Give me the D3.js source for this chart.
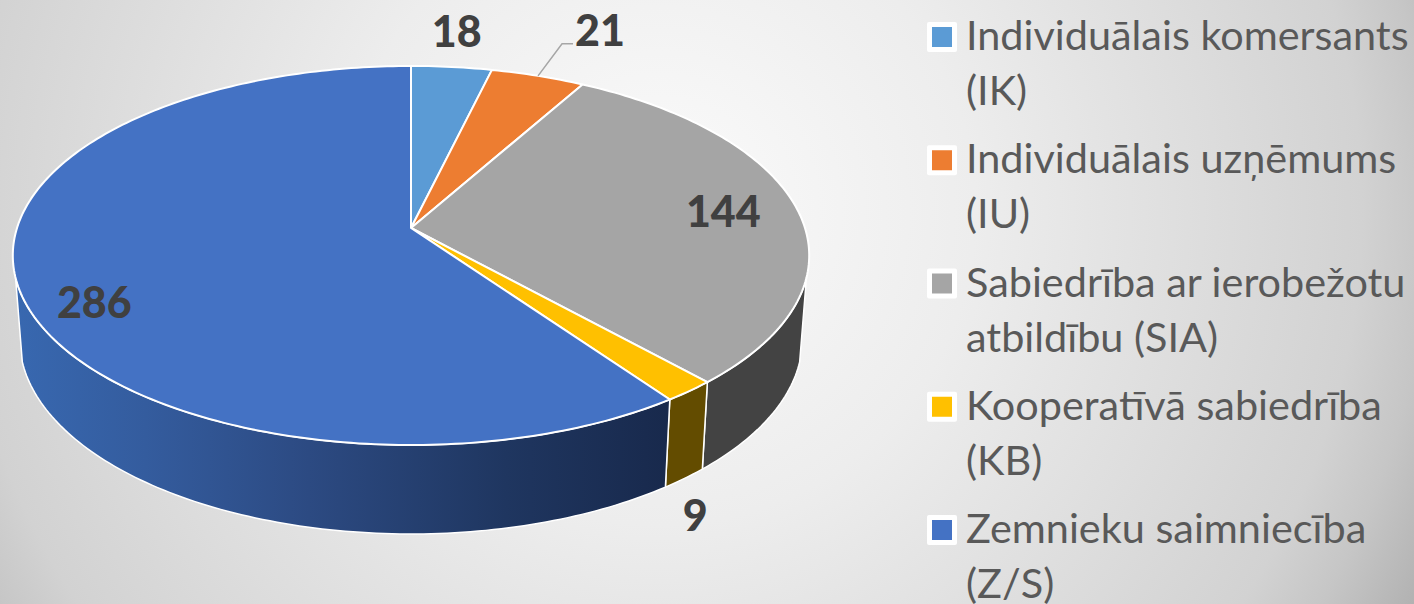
<!DOCTYPE html>
<html>
<head>
<meta charset="utf-8">
<script src="https://cdn.jsdelivr.net/npm/d3@7"></script>
<style>
  html, body { margin: 0; padding: 0; overflow: hidden; }
  svg { display: block; }
  text { font-family: Lato, "Open Sans", sans-serif; }
</style>
</head>
<body>
<svg id="drawing_region" width="1414" height="604"></svg>
<script>
// data
const categories = ['IK', 'IU', 'SIA', 'KB', 'Z/S'];
const values = [18, 21, 144, 9, 286];
const legend_lines = [
    ['Individuālais komersants', '(IK)'],
    ['Individuālais uzņēmums', '(IU)'],
    ['Sabiedrība ar ierobežotu', 'atbildību (SIA)'],
    ['Kooperatīvā sabiedrība', '(KB)'],
    ['Zemnieku saimniecība', '(Z/S)']
];

// colours
const top_colors = ['#5b9bd5', '#ed7d31', '#a5a5a5', '#ffc000', '#4472c4'];
const wall_colors = ['#34608c', '#8a4a1d', '#434343', '#634c00', 'url(#blue_wall)'];

// label offset from the middle of each slice's rim
const label_offsets = [[5, -20], [62, -30], [-73, 19], [6, 140], [76, 31]];

const svg = d3.select('#drawing_region');
const defs = svg.append('defs');

// page background
const bg = defs.append('radialGradient')
    .attr('id', 'page_bg')
    .attr('gradientUnits', 'userSpaceOnUse')
    .attr('cx', 660).attr('cy', 210).attr('r', 900);
[[0, '#fbfbfb'], [0.35, '#ededed'], [0.49, '#e4e4e4'], [0.78, '#d2d2d2'], [0.855, '#c6c6c6'], [0.944, '#b2b2b2'], [1, '#aaaaaa']]
    .forEach(s => bg.append('stop').attr('offset', s[0]).attr('stop-color', s[1]));

// shaded side of the big blue slice
const blue = defs.append('linearGradient')
    .attr('id', 'blue_wall')
    .attr('gradientUnits', 'userSpaceOnUse')
    .attr('x1', 14).attr('x2', 670).attr('y1', 0).attr('y2', 0);
[[0, '#3868b0'], [0.2, '#345c9e'], [0.45, '#2c4a82'], [0.75, '#1f3660'], [1, '#18294c']]
    .forEach(s => blue.append('stop').attr('offset', s[0]).attr('stop-color', s[1]));

svg.append('rect').attr('width', 1414).attr('height', 604).attr('fill', 'url(#page_bg)');

// pie tilted in perspective: unit circle -> screen
const cx = 411, cy = 228, radius = 394;
const persp = -0.145, yk = 152.5;

function project(angle) {
    const s = Math.sin(angle), t = -Math.cos(angle);
    const d = 1 + persp * t;
    return [cx + radius * s / d, (cy + yk * t) / d];
}

// lower rim of the disc
function lower(angle) {
    const p = project(angle);
    return [cx + (p[0] - cx) * 0.983, p[1] * 1.03 + 75.6];
}

const pie = d3.pie().sort(null).value(d => d);
const slices = pie(values);

const line = d3.line();
const deg = Math.PI / 180;
const wall_from = 105 * deg, wall_to = 255 * deg;

function arc_angles(a0, a1) {
    const n = Math.max(2, Math.ceil((a1 - a0) / deg));
    return d3.range(n + 1).map(i => a0 + (a1 - a0) * i / n);
}

// side walls, only the part facing us
const wall_group = svg.append('g');
slices.forEach((d, i) => {
    const a0 = Math.max(d.startAngle, wall_from);
    const a1 = Math.min(d.endAngle, wall_to);
    if (a1 <= a0) return;
    const angles = arc_angles(a0, a1);
    const pts = angles.map(project).concat(angles.slice().reverse().map(lower));
    wall_group.append('path')
        .attr('d', line(pts) + 'Z')
        .attr('fill', wall_colors[i])
        .attr('stroke', '#ffffff')
        .attr('stroke-width', 1.5)
        .attr('stroke-linejoin', 'round');
});

// top faces
svg.append('g').selectAll('path').data(slices).enter()
    .append('path')
    .attr('d', d => line([[cx, cy]].concat(arc_angles(d.startAngle, d.endAngle).map(project))) + 'Z')
    .attr('fill', (d, i) => top_colors[i])
    .attr('stroke', '#ffffff')
    .attr('stroke-width', 2)
    .attr('stroke-linejoin', 'round');

// leader line of the orange slice
const mid = d => (d.startAngle + d.endAngle) / 2;
const leader_start = project(mid(slices[1]));
svg.append('path')
    .attr('d', line([leader_start, [leader_start[0] + 24, leader_start[1] - 32], [leader_start[0] + 35, leader_start[1] - 32]]))
    .attr('fill', 'none')
    .attr('stroke', '#a6a6a6')
    .attr('stroke-width', 1.5);

// data labels
svg.append('g').selectAll('text').data(slices).enter()
    .append('text')
    .attr('x', (d, i) => project(mid(d))[0] + label_offsets[i][0])
    .attr('y', (d, i) => project(mid(d))[1] + label_offsets[i][1])
    .attr('text-anchor', 'middle')
    .attr('font-size', 43)
    .attr('font-weight', 900)
    .attr('fill', '#404040')
    .text(d => d.value);

// legend
const row_scale = d3.scalePoint()
    .domain(categories)
    .range([50, 543]);

const rows = svg.append('g').selectAll('g').data(categories).enter()
    .append('g')
    .attr('transform', d => `translate(0, ${row_scale(d)})`);

rows.append('rect')
    .attr('x', 927).attr('y', -28)
    .attr('width', 30).attr('height', 30)
    .attr('rx', 2)
    .attr('fill', '#ffffff');

rows.append('rect')
    .attr('x', 932).attr('y', -23)
    .attr('width', 20).attr('height', 20)
    .attr('fill', (d, i) => top_colors[i]);

rows.each(function(d, i) {
    d3.select(this).selectAll('text').data(legend_lines[i]).enter()
        .append('text')
        .attr('x', 966)
        .attr('y', (t, j) => j * 55)
        .attr('font-size', 41.4)
        .attr('fill', '#595959')
        .text(t => t);
});
</script>
</body>
</html>
